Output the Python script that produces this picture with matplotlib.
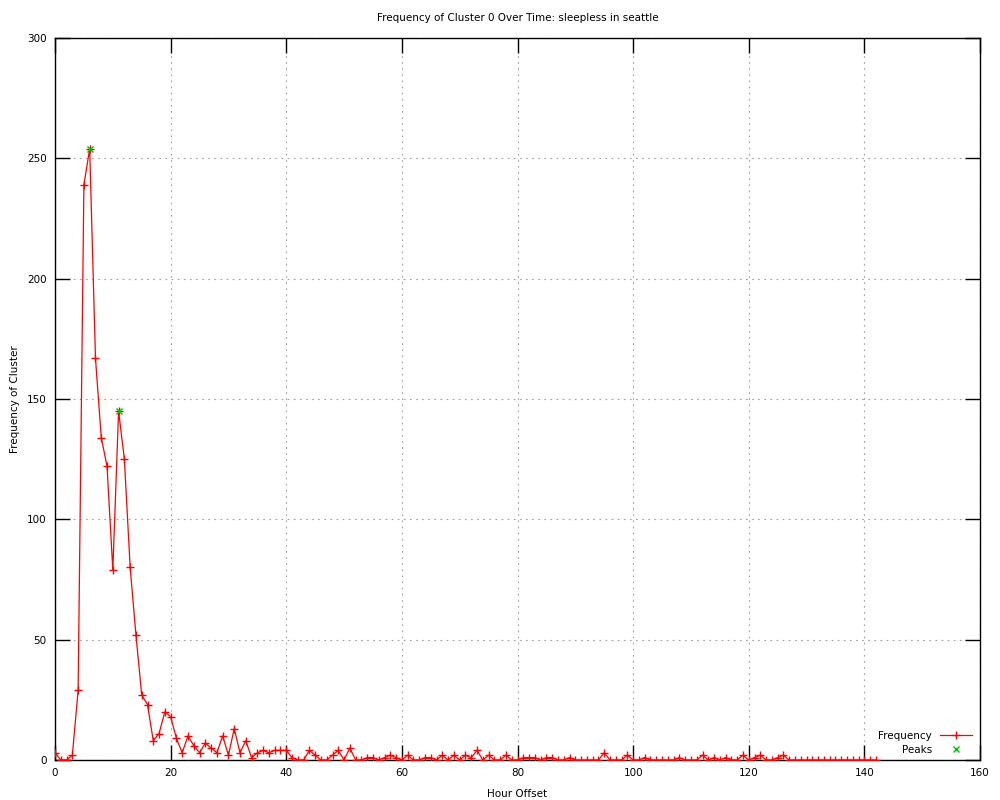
import numpy as np
import matplotlib
matplotlib.use("Agg")
import matplotlib.pyplot as plt

# frequency per hour offset
freq = [3, 0, 0, 2, 29, 239, 254, 167, 134, 122,
        79, 145, 125, 80, 52, 27, 23, 8, 11, 20,
        18, 9, 3, 10, 6, 3, 7, 5, 3, 10,
        2, 13, 3, 8, 1, 3, 4, 3, 4, 4,
        4, 1, 0, 0, 4, 2, 0, 0, 2, 4,
        0, 5, 0, 0, 1, 1, 0, 1, 2, 1,
        0, 2, 0, 0, 1, 1, 0, 2, 0, 2,
        0, 2, 1, 4, 0, 2, 0, 0, 2, 0,
        0, 1, 1, 1, 0, 1, 1, 0, 0, 1,
        0, 0, 0, 0, 0, 3, 0, 0, 0, 2,
        0, 0, 1, 0, 0, 0, 0, 0, 1, 0,
        0, 0, 2, 0, 1, 0, 1, 0, 0, 2,
        0, 1, 2, 0, 0, 1, 2, 0, 0, 0,
        0, 0, 0, 0, 0, 0, 0, 0, 0, 0,
        0, 0, 0]
hours = np.arange(len(freq))

peak_x = [6, 11]
peak_y = [254, 145]

title = "Frequency of Cluster 0 Over Time: sleepless in seattle"

plt.rcParams['font.family'] = 'DejaVu Sans'
fig = plt.figure(figsize=(10, 8), dpi=100)
ax = fig.add_axes([0.055, 0.05, 0.925, 0.9025])

ax.plot(hours, freq, color='red', lw=0.9, marker='+', ms=6, mew=1,
        label='Frequency', zorder=3)
ax.plot(peak_x, peak_y, ls='none', color='#00c000', marker='x', ms=5, mew=1,
        label='Peaks', zorder=4)

ax.set_xlim(0, 160)
ax.set_ylim(0, 300)
ax.set_xticks(np.arange(0, 161, 20))
ax.set_yticks(np.arange(0, 301, 50))
ax.tick_params(direction='in', length=11, width=1, top=True, right=True,
               labelsize=7.5, pad=6)
ax.grid(True, color='#a0a0a0', ls=(0, (1.5, 4)), lw=0.8)
ax.set_axisbelow(True)
for s in ax.spines.values():
    s.set_linewidth(1)

ax.set_title(title, fontsize=7.5, pad=12)
ax.set_xlabel("Hour Offset", fontsize=7.5, labelpad=8)
ax.set_ylabel("Frequency of Cluster", fontsize=7.5, labelpad=5)

ax.legend(loc='lower right', frameon=False, markerfirst=False, fontsize=7.5,
          handlelength=3, borderaxespad=0.4, labelspacing=0.35,
          bbox_to_anchor=(1.0, -0.004))

fig.savefig("out.png", dpi=100)
